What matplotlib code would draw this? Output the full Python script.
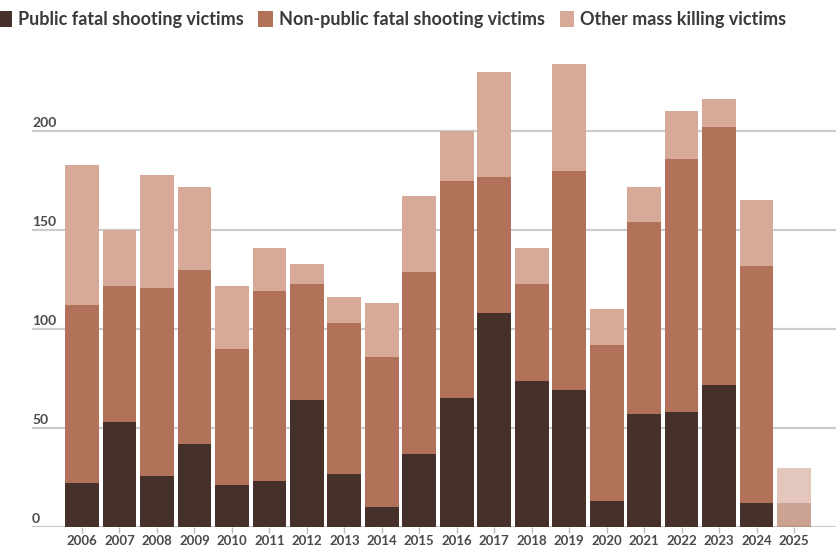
import matplotlib
matplotlib.use("Agg")
import matplotlib.pyplot as plt
import matplotlib.transforms as mtransforms
from matplotlib.patches import Patch
import numpy as np

years = ["2006", "2007", "2008", "2009", "2010", "2011", "2012", "2013", "2014", "2015",
         "2016", "2017", "2018", "2019", "2020", "2021", "2022", "2023", "2024", "2025"]
public = [22, 53, 26, 42, 21, 23, 64, 27, 10, 37, 65, 108, 74, 69, 13, 57, 58, 72, 12, 0]
nonpublic = [90, 69, 95, 88, 69, 96, 59, 76, 76, 92, 110, 69, 49, 111, 79, 97, 128, 130, 120, 12]
other = [71, 28, 57, 42, 32, 22, 10, 13, 27, 38, 25, 53, 18, 54, 18, 18, 24, 14, 33, 18]
yticks = [0, 50, 100, 150, 200]
labels = ["Public fatal shooting victims", "Non-public fatal shooting victims", "Other mass killing victims"]
colors = ["#46302a", "#b17259", "#d6a999"]

plt.rcParams['font.family'] = ['Lato', 'DejaVu Sans']

fig = plt.figure(figsize=(8.36, 5.48), dpi=100)
ax = fig.add_axes([32/836, 1 - 527/548, 1 - 32/836, (527 - 52)/548])

x = np.arange(len(years))
pub = np.array(public)
nonp = np.array(nonpublic)
oth = np.array(other)
alphas = [1.0] * (len(years) - 1) + [0.65]
w = 0.9
for i in range(len(years)):
    a = alphas[i]
    ax.bar(x[i], pub[i], width=w, color=colors[0], alpha=a, linewidth=0, zorder=3)
    ax.bar(x[i], nonp[i], bottom=pub[i], width=w, color=colors[1], alpha=a, linewidth=0, zorder=3)
    ax.bar(x[i], oth[i], bottom=pub[i] + nonp[i], width=w, color=colors[2], alpha=a, linewidth=0, zorder=3)

ax.set_xlim(-1.334, 20.12)
ax.set_ylim(0, 240)
for s in ax.spines.values():
    s.set_visible(False)

for t in yticks:
    ax.axhline(t, color="#cccccc", linewidth=1.6, zorder=1)
ax.set_yticks([])
trans = mtransforms.blended_transform_factory(ax.transAxes, ax.transData)
for t in yticks:
    ax.text(0.0, t, str(t), transform=trans + mtransforms.ScaledTranslation(0, 1.5/72, fig.dpi_scale_trans),
            ha="left", va="bottom", fontsize=10, fontweight="bold", color="#4a4a4a")

ax.set_xticks(x)
ax.set_xticklabels(years, fontsize=9.5, fontweight="bold", color="#4a4a4a")
ax.tick_params(axis="x", length=4, width=1, color="#bbbbbb", pad=2)

handles = [Patch(facecolor=c, edgecolor="none") for c in colors]
fig.legend(handles, labels, loc="upper left", bbox_to_anchor=(-0.016, 1.0), ncol=3, frameon=False,
           handlelength=0.8, handleheight=1.0, handletextpad=0.35, columnspacing=0.8,
           borderaxespad=0.2, prop={"weight": "bold", "size": 13})
for t in fig.legends[0].get_texts():
    t.set_color("#3a3a3a")

fig.savefig("out.png", dpi=100)
